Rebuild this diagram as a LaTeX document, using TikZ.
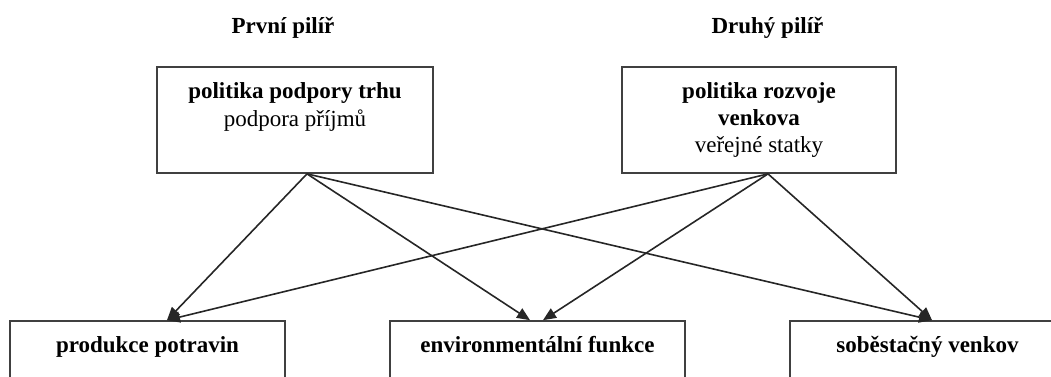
\documentclass[tikz,border=0pt]{standalone}
\usepackage{fontspec}
\setmainfont{Liberation Serif}
\usetikzlibrary{arrows.meta,calc}
\begin{document}
\begin{tikzpicture}[x=1pt,y=-1pt,
  every node/.style={font=\fontsize{23}{27}\selectfont},
  box/.style={draw=black!75, line width=1.7pt, inner sep=0pt},
  lbl/.style={anchor=base, inner sep=0pt},
  arr/.style={line width=1.6pt, draw=black!85, -{Triangle[length=13pt,width=11pt]}}]
\useasboundingbox (0,0) rectangle (1051,376);
\clip (0,0) rectangle (1051,376);
% titles
\node[lbl] (t1) at (283,33) {\textbf{První pilíř}};
\node[lbl] (t2) at (767.5,33) {\textbf{Druhý pilíř}};
% top boxes
\node[box, minimum width=276pt, minimum height=106pt] (L) at (295,120) {};
\node[box, minimum width=274pt, minimum height=106pt] (R) at (759,120) {};
\node[lbl] (L1) at (295,98) {\textbf{politika podpory trhu}};
\node[lbl] (L2) at (295,126) {podpora příjmů};
\node[lbl] (R1) at (759,98) {\textbf{politika rozvoje}};
\node[lbl] (R2) at (759,125) {\textbf{venkova}};
\node[lbl] (R3) at (759,152) {veřejné statky};
% bottom boxes
\node[box, minimum width=275pt, minimum height=100pt] (B1) at (147.5,371) {};
\node[box, minimum width=295pt, minimum height=100pt] (B2) at (537.5,371) {};
\node[box, minimum width=275pt, minimum height=100pt] (B3) at (927.5,371) {};
\node[lbl] (B1t) at (147.5,352) {\textbf{produkce potravin}};
\node[lbl] (B2t) at (537.5,352) {\textbf{environmentální funkce}};
\node[lbl] (B3t) at (927.5,352) {\textbf{soběstačný venkov}};
% connector ends
\coordinate (Lo) at ($(L.south)+(12,0)$);
\coordinate (Ro) at ($(R.south)+(9,0)$);
\coordinate (e1) at ($(B1.north)+(19.5,0)$);
\coordinate (e2a) at ($(B2.north)+(-7.5,0)$);
\coordinate (e2b) at ($(B2.north)+(5.5,0)$);
\coordinate (e3) at ($(B3.north)+(4.5,0)$);
\draw[arr] (Lo) -- (e1);
\draw[arr] (Lo) -- (e2a);
\draw[arr] (Lo) -- (e3);
\draw[arr] (Ro) -- (e1);
\draw[arr] (Ro) -- (e2b);
\draw[arr] (Ro) -- (e3);
\end{tikzpicture}
\end{document}
